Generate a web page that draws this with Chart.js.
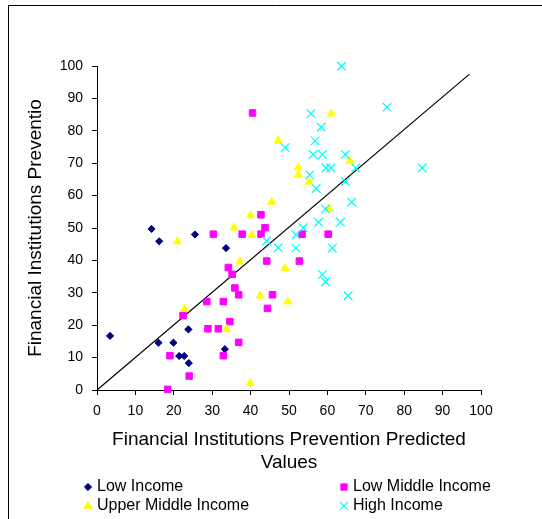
<!DOCTYPE html>
<html><head><meta charset="utf-8">
<script src="https://cdn.jsdelivr.net/npm/chart.js@4/dist/chart.umd.min.js"></script>
<style>html,body{margin:0;padding:0;background:#fff;overflow:hidden}canvas{display:block}</style>
</head><body>
<canvas id="c" width="542" height="519"></canvas>
<script>
const seriesNames = ['Low Income', 'Low Middle Income', 'Upper Middle Income', 'High Income'];
const xTitle = ['Financial Institutions Prevention Predicted', 'Values'];
const yTitle = 'Financial Institutions Preventio';

const lowX = [14.2, 16.2, 25.5, 33.6, 3.4, 16.0, 19.9, 21.4, 22.7, 23.8, 23.9, 33.3];
const lowY = [49.7, 45.9, 48.0, 43.8, 16.7, 14.6, 14.6, 10.5, 10.5, 18.7, 8.3, 12.6];

const lmX = [40.5, 42.7, 43.75, 30.3, 37.8, 42.7, 44.2, 34.2, 35.2, 35.9, 36.9, 45.7, 44.4, 28.6, 32.9, 22.4, 34.6, 28.9, 31.6, 36.9, 19.0, 32.9, 24.0, 18.4, 53.4, 60.2, 52.7];
const lmY = [85.5, 54.1, 50.1, 48.1, 48.1, 48.1, 39.8, 37.8, 35.7, 31.5, 29.4, 29.4, 25.2, 27.3, 27.3, 23.0, 21.1, 18.9, 18.9, 14.7, 10.6, 10.6, 4.3, 0.2, 48.1, 48.1, 39.8];

const umX = [47.2, 45.5, 40.0, 35.7, 40.3, 20.9, 37.2, 49.0, 42.5, 49.7, 22.8, 33.7, 39.9, 61.0, 65.9, 52.4, 52.4, 55.2, 60.4];
const umY = [76.9, 58.0, 53.9, 50.1, 47.8, 45.8, 39.6, 37.6, 29.1, 27.3, 25.0, 18.8, 2.1, 85.3, 70.7, 68.6, 66.4, 64.2, 55.9];

const hiX = [49.0, 63.7, 75.5, 55.7, 58.4, 56.8, 56.3, 58.7, 64.7, 59.6, 60.9, 67.4, 84.7, 55.4, 57.1, 64.7, 66.3, 59.5, 57.7, 63.4, 53.7, 51.8, 47.2, 51.8, 61.3, 58.7, 59.5, 65.4, 44.2];
const hiY = [74.8, 99.9, 87.3, 85.3, 81.1, 76.9, 72.7, 72.7, 72.7, 68.5, 68.5, 68.5, 68.5, 66.4, 62.2, 64.3, 58.0, 55.9, 51.8, 51.8, 50.1, 47.9, 43.9, 43.8, 43.8, 35.6, 33.4, 29.1, 46.0];

const refLineX = [0, 97];
const refLineY = [0, 97.5];

const pts = (xs, ys) => xs.map((x, i) => ({x: x, y: ys[i]}));

const styles = [
  {pointStyle: 'rectRot', radius: 3.6, bg: '#000080', border: '#000080', bw: 1},
  {pointStyle: 'rect', radius: 4.6, bg: '#FF00FF', border: '#FF00FF', bw: 1},
  {pointStyle: 'triangle', radius: 4.6, bg: '#FFFF00', border: '#FFFF00', bw: 1},
  {pointStyle: 'crossRot', radius: 6, bg: '#00FFFF', border: '#00FFFF', bw: 1.3}
];
const dataSets = [pts(lowX, lowY), pts(lmX, lmY), pts(umX, umY), pts(hiX, hiY)];

const datasets = dataSets.map((d, i) => ({
  label: seriesNames[i], data: d, showLine: false, clip: false,
  pointStyle: styles[i].pointStyle, pointRadius: styles[i].radius,
  pointBackgroundColor: styles[i].bg, pointBorderColor: styles[i].border,
  pointBorderWidth: styles[i].bw, order: 5 - i
}));
datasets.push({label: 'ref', data: pts(refLineX, refLineY), showLine: true, pointRadius: 0,
  borderColor: '#000', borderWidth: 1.2, fill: false, order: 6, clip: false});

const FONT = "'Liberation Sans', Arial, sans-serif";

const framePlugin = {
  id: 'frame',
  beforeDraw(chart) {
    const ctx = chart.ctx;
    ctx.save();
    ctx.fillStyle = '#fff';
    ctx.fillRect(0, 0, chart.width, chart.height);
    ctx.strokeStyle = '#000';
    ctx.lineWidth = 1;
    ctx.beginPath();
    ctx.moveTo(8.5, chart.height);
    ctx.lineTo(8.5, 5.5);
    ctx.lineTo(chart.width, 5.5);
    ctx.stroke();
    ctx.restore();
  },
  afterDraw(chart) {
    const ctx = chart.ctx;
    const pos = [[88, 487], [344, 487], [88, 506], [344, 506]];
    const lstyles = [
      {pointStyle: 'rectRot', radius: 3.6, bw: 1},
      {pointStyle: 'rect', radius: 4.4, bw: 1},
      {pointStyle: 'triangle', radius: 4.6, bw: 1},
      {pointStyle: 'crossRot', radius: 5.5, bw: 1.2}
    ];
    ctx.save();
    for (let i = 0; i < 4; i++) {
      const [x, y] = pos[i];
      ctx.fillStyle = styles[i].bg;
      ctx.strokeStyle = styles[i].border;
      ctx.lineWidth = lstyles[i].bw;
      Chart.helpers.drawPoint(ctx, {pointStyle: lstyles[i].pointStyle, radius: lstyles[i].radius, borderWidth: lstyles[i].bw, rotation: 0}, x, y);
      ctx.fillStyle = '#000';
      ctx.font = '16px ' + FONT;
      ctx.textBaseline = 'middle';
      ctx.textAlign = 'left';
      ctx.fillText(seriesNames[i], x + 9, y);
    }
    ctx.restore();
  }
};

new Chart(document.getElementById('c'), {
  type: 'scatter',
  data: {datasets: datasets},
  plugins: [framePlugin],
  options: {
    responsive: false, animation: false, devicePixelRatio: 1,
    layout: {padding: {left: 24, top: 66, right: 61, bottom: 45}},
    plugins: {legend: {display: false}, tooltip: {enabled: false}},
    scales: {
      x: {
        type: 'linear', min: 0, max: 100,
        ticks: {stepSize: 10, color: '#000', font: {family: FONT, size: 14}, padding: 8, maxRotation: 0},
        grid: {drawOnChartArea: false, drawTicks: true, tickLength: 5, color: '#000'},
        border: {color: '#000', width: 1},
        title: {display: true, text: xTitle, color: '#000', font: {family: FONT, size: 19, lineHeight: 1.2}, padding: {top: 0, bottom: 0}},
        afterFit: s => { s.height = 84; }
      },
      y: {
        type: 'linear', min: 0, max: 100,
        ticks: {stepSize: 10, color: '#000', font: {family: FONT, size: 14}, padding: 9},
        grid: {drawOnChartArea: false, drawTicks: true, tickLength: 5, color: '#000'},
        border: {color: '#000', width: 1},
        title: {display: true, text: yTitle, color: '#000', font: {family: FONT, size: 19, lineHeight: 1.2}, padding: {top: 0, bottom: 0}},
        afterFit: s => { s.width = 73; }
      }
    }
  }
});
</script>
</body></html>
